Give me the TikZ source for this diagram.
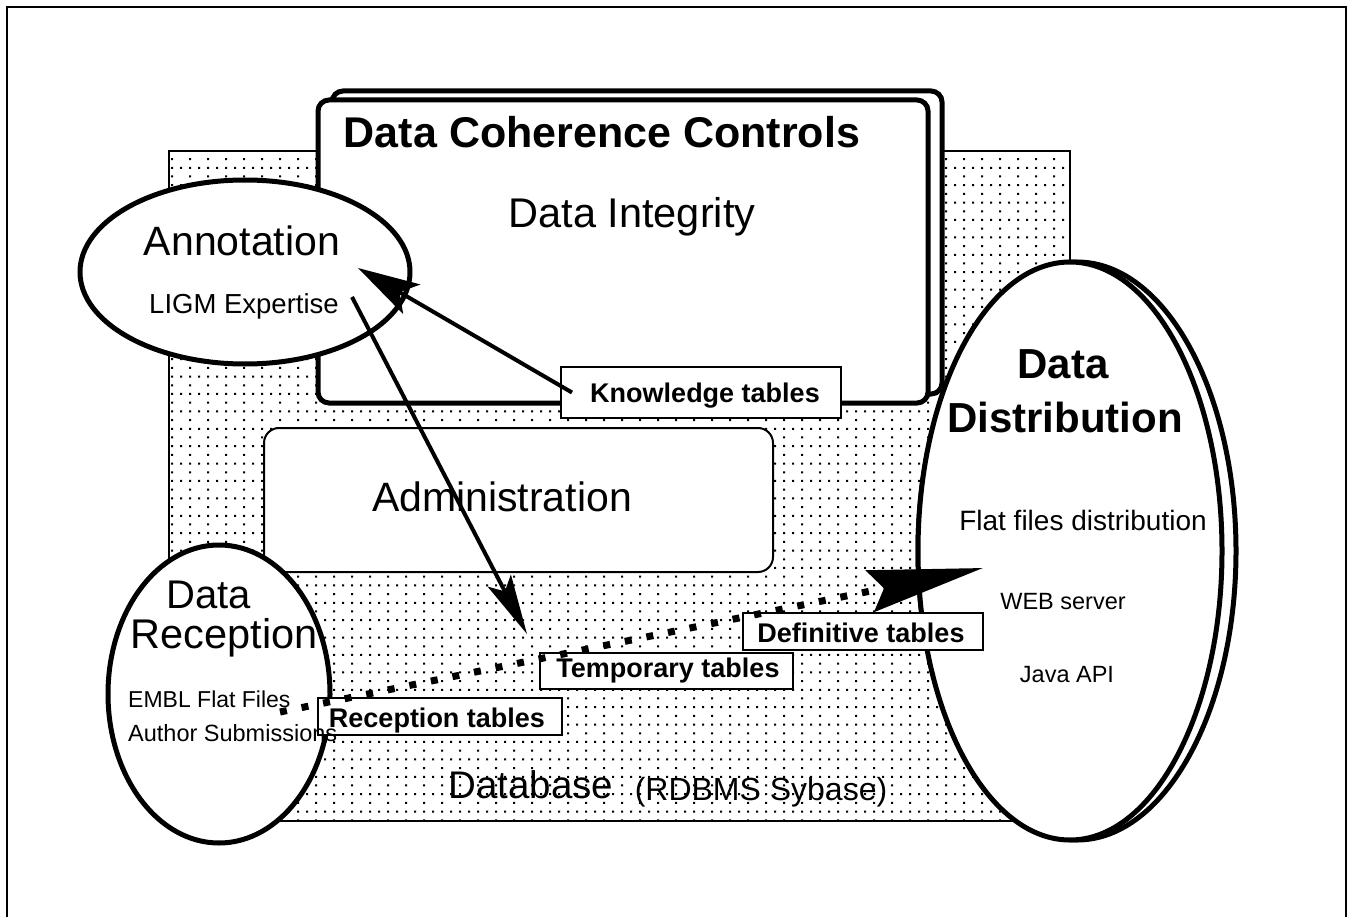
\documentclass[tikz,border=0pt]{standalone}
\usepackage{fontspec}
\setmainfont{Liberation Sans}
\usetikzlibrary{arrows.meta,patterns,shapes.geometric}
\pgfdeclarepatternformonly{dbdots}{\pgfqpoint{-1pt}{-1pt}}{\pgfqpoint{19pt}{19pt}}{\pgfqpoint{18pt}{17.4pt}}{%
  \pgfpathrectangle{\pgfqpoint{0pt}{0pt}}{\pgfqpoint{2pt}{2pt}}%
  \pgfpathrectangle{\pgfqpoint{9pt}{0pt}}{\pgfqpoint{2pt}{2pt}}%
  \pgfpathrectangle{\pgfqpoint{9pt}{8.7pt}}{\pgfqpoint{2pt}{2pt}}%
  \pgfusepath{fill}}
\newcommand{\fsz}[1]{\fontsize{#1}{#1}\selectfont}
\begin{document}
\begin{tikzpicture}[x=1pt,y=-1pt,
  frameline/.style={line width=2pt},
  thickbox/.style={draw, line width=5pt, fill=white, inner sep=0pt},
  oval/.style={draw, ellipse, line width=5pt, fill=white, inner sep=0pt},
  tablebox/.style={draw, line width=2pt, fill=white, inner sep=0pt},
  lbl/.style={inner sep=0pt, anchor=base},
  tbltext/.style={lbl, font=\bfseries\fsz{27}},
  conn/.style={line width=4pt},
  ]
\useasboundingbox (0,0) rectangle (1351,917);
\fill[white] (0,0) rectangle (1351,917);
% outer frame
\draw[frameline] (7,917) -- (7,7) -- (1346,7) -- (1346,917);
% database area
\node[draw, line width=1.8pt, pattern=dbdots, pattern color=black, minimum width=901pt, minimum height=670pt, inner sep=0pt] (db) at (619.5,486) {};
% data coherence controls (double box)
\node[thickbox, rounded corners=11pt, minimum width=610pt, minimum height=303pt] (dccShadow) at (637,242.5) {};
\node[thickbox, rounded corners=11pt, minimum width=610pt, minimum height=303pt] (dcc) at (623,251.5) {};
\node[lbl, font=\bfseries\fsz{43}] (dccTitle) at (602,148) {Data Coherence Controls};
\node[lbl, font=\fsz{41.5}] (integ) at (632,228) {Data Integrity};
% administration
\node[tablebox, rounded corners=15pt, minimum width=509pt, minimum height=144pt] (admin) at (518.5,500) {};
\node[lbl, font=\fsz{41}] (adminT) at (502,511) {Administration};
% knowledge tables
\node[tablebox, minimum width=280pt, minimum height=51pt] (kn) at (701,392.5) {};
\node[tbltext] (knT) at (705,402) {Knowledge tables};
% annotation
\node[oval, minimum width=330pt, minimum height=184pt] (ann) at (245,272) {};
\node[lbl, font=\fsz{41}] (annT) at (242,255) {Annotation};
\node[lbl, font=\fsz{27.5}] (ligm) at (244,313) {LIGM Expertise};
% data distribution (double ellipse)
\node[oval, minimum width=318pt, minimum height=578pt] (distShadow) at (1077,551) {};
\node[oval, minimum width=304pt, minimum height=578pt] (dist) at (1070,551) {};
\node[lbl, font=\bfseries\fsz{42}] (distT1) at (1063,378) {Data};
\node[lbl, font=\bfseries\fsz{42}] (distT2) at (1065,432) {Distribution};
\node[lbl, font=\fsz{28}] (flat) at (1083,530) {Flat files distribution};
\node[lbl, font=\fsz{23.5}] (web) at (1063,609) {WEB server};
\node[lbl, font=\fsz{23.5}] (java) at (1067,682) {Java API};
% data reception
\node[oval, minimum width=222pt, minimum height=298pt] (rec) at (219,694) {};
\node[lbl, font=\fsz{40}] (recT1) at (209,608) {Data};
\node[lbl, font=\fsz{41.5}] (recT2) at (224,648) {Reception};
% database labels
\node[lbl, font=\fsz{38.5}] (dbT) at (531,798) {Database};
\node[lbl, font=\fsz{32}] (dbSub) at (761,800) {(RDBMS Sybase)};
% table boxes
\node[tablebox, minimum width=240pt, minimum height=37pt] (defB) at (863,631.5) {};
\node[tbltext] (defT) at (861,642) {Definitive tables};
\node[tablebox, minimum width=253pt, minimum height=36pt] (tmpB) at (666.5,671) {};
\node[tbltext] (tmpT) at (668,677) {Temporary tables};
\node[tablebox, minimum width=244pt, minimum height=37pt] (recB) at (440,716.5) {};
\node[tbltext] (recBT) at (437,727) {Reception tables};
% reception sources (printed over the box edge)
\node[lbl, anchor=base west, font=\fsz{23}] (embl) at (128,707) {EMBL Flat Files};
\node[lbl, anchor=base west, font=\fsz{23.5}] (author) at (128,741) {Author Submissions};
% connectors
\coordinate (annTip) at (358,268);
\draw[conn, -{Stealth[length=62pt,width=34pt,inset=14pt]}] ([xshift=12pt]kn.west) -- (annTip);
\coordinate (ligmEnd) at (352,297);
\coordinate (tmpTip) at (527,634);
\draw[conn, -{Stealth[length=60pt,width=26pt,inset=12pt]}] (ligmEnd) -- (tmpTip);
\coordinate (recStart) at (280,712);
\coordinate (defTip) at (983,568);
\draw[line width=7pt, dash pattern=on 7pt off 15pt, -{Stealth[length=115pt,width=42pt,inset=14pt]}] (recStart) -- (defTip);
\end{tikzpicture}
\end{document}
